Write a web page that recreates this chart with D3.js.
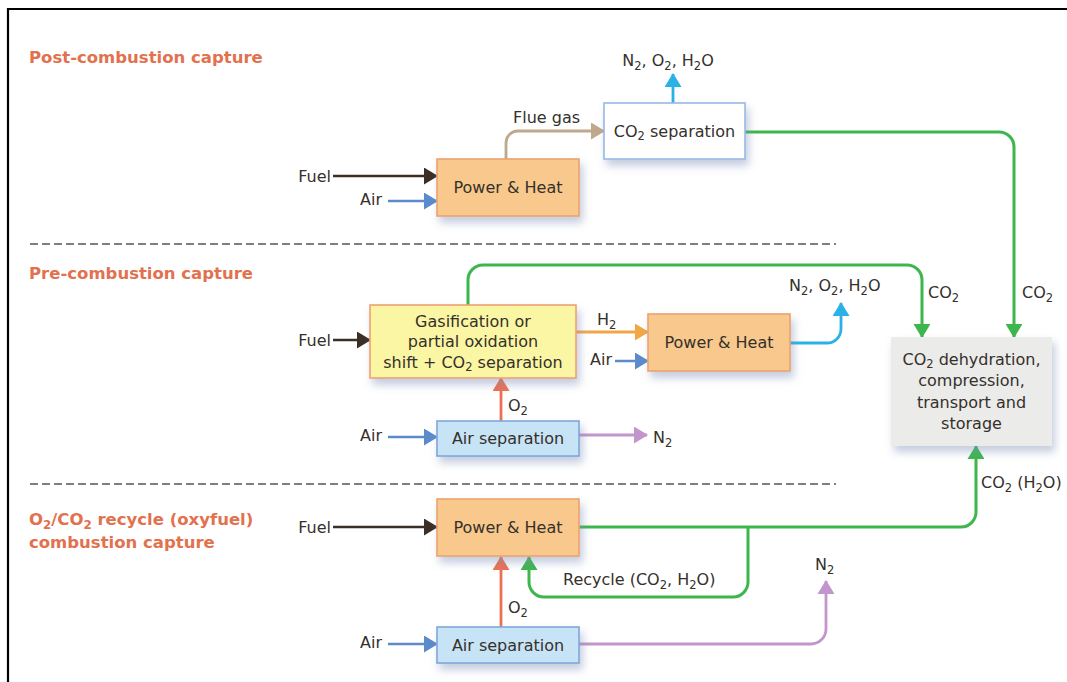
<!DOCTYPE html>
<html>
<head>
  <meta charset="utf-8">
  <title>CO2 capture routes</title>
  <script src="https://d3js.org/d3.v7.min.js"></script>
  <style>
    body { margin: 0; background: #fff; }
    svg text { font-family: "DejaVu Sans", sans-serif; font-size: 16px; fill: #35302b; }
    svg text.title { font-weight: bold; font-size: 16.5px; fill: #e2714e; }
  </style>
</head>
<body>
<svg id="chart"></svg>
<script>
// ---- texts (a "_2" means subscript 2) ----
var sectionTitles = [
  ["Post-combustion capture"],
  ["Pre-combustion capture"],
  ["O_2/CO_2 recycle (oxyfuel)", "combustion capture"]
];
var boxLabels = [
  ["Power & Heat"],
  ["CO_2 separation"],
  ["Gasification or", "partial oxidation", "shift + CO_2 separation"],
  ["Power & Heat"],
  ["Air separation"],
  ["CO_2 dehydration,", "compression,", "transport and", "storage"],
  ["Power & Heat"],
  ["Air separation"]
];
var boxKinds = ["heat", "sep", "gas", "heat", "air", "store", "heat", "air"];
var inputLabels = ["Fuel", "Air", "Fuel", "Air", "Air", "Fuel", "Air"];
var flowLabels = ["Flue gas", "N_2, O_2, H_2O", "CO_2", "CO_2", "H_2", "N_2, O_2, H_2O",
                  "O_2", "N_2", "CO_2 (H_2O)", "Recycle (CO_2, H_2O)", "O_2", "N_2"];

// ---- layout of the drawing ----
var W = 1067, H = 682;
var titlePos = [[29, 63], [29, 279], [29, 525]];
var dashY = [244, 484];
var boxRect = [
  [437, 159, 142, 57], [604, 103, 141, 56],
  [370, 305, 206, 73], [648, 314, 142, 57], [437, 421, 142, 35],
  [891, 337, 161, 109],
  [437, 499, 142, 57], [437, 627, 142, 36]
];
var boxLineHeight = [20, 20, 20.5, 20, 20, 21.5, 20, 20];
var boxStyle = {
  heat:  { fill: "#f8c88c", stroke: "#eca36e" },
  sep:   { fill: "#ffffff", stroke: "#98b9e4" },
  gas:   { fill: "#faf6a3", stroke: "#efa174" },
  air:   { fill: "#c7e4f6", stroke: "#7fa7d9" },
  store: { fill: "#ebebe9", stroke: "none" }
};
var colors = {
  fuel: "#3b2e25", air: "#5b8bcb", flue: "#bfa88b", out: "#2ab2e6",
  co2: "#3db64b", h2: "#f2a646", o2: "#ec7052", n2: "#c295cc"
};
// input arrows: [kind, label anchor end x, line y, start x, end x]
var inputs = [
  ["fuel", 331, 176, 333, 437], ["air", 382, 201, 388, 437],
  ["fuel", 331, 340, 333, 370], ["air", 612, 361, 615, 648], ["air", 382, 437, 388, 437],
  ["fuel", 331, 527, 333, 437], ["air", 382, 644, 388, 437]
];
// flows: [kind, corner radius, points]
var flows = [
  ["flue", 12, [[506, 159], [506, 131], [604, 131]]],
  ["out", 0, [[673, 103], [673, 74]]],
  ["co2", 15, [[745, 132], [1014, 132], [1014, 337]]],
  ["co2", 15, [[468, 305], [468, 265], [922, 265], [922, 337]]],
  ["h2", 0, [[576, 332], [648, 332]]],
  ["out", 14, [[790, 343], [841, 343], [841, 303]]],
  ["o2", 0, [[501, 421], [501, 378]]],
  ["n2", 0, [[579, 435], [647, 435]]],
  ["co2", 15, [[579, 527], [976, 527], [976, 446]]],
  ["co2", 15, [[748, 527], [748, 597], [529, 597], [529, 557]]],
  ["o2", 0, [[501, 627], [501, 557]]],
  ["n2", 15, [[579, 644], [826, 644], [826, 581]]]
];
// flow label positions: [x, baseline y, anchor]
var flowLabelPos = [
  [513, 123, "start"], [668, 66, "middle"], [1022, 298, "start"], [928, 298, "start"],
  [597, 325, "start"], [789, 291, "start"], [508, 411, "start"], [653, 443, "start"],
  [981, 488, "start"], [563, 585, "start"], [508, 613, "start"], [815, 570, "start"]
];

// ---- helpers ----
function richText(sel, str, size) {
  var parts = str.split(/_(\d)/), down = false;
  parts.forEach(function (s, i) {
    if (!s) return;
    if (i % 2) {
      sel.append("tspan").attr("font-size", size * 0.72).attr("dy", size * 0.22).text(s);
      down = true;
    } else {
      var t = sel.append("tspan").text(s);
      if (down) { t.attr("dy", -size * 0.22); down = false; }
    }
  });
}

function route(pts, r) {
  var p = d3.path();
  p.moveTo(pts[0][0], pts[0][1]);
  for (var i = 1; i < pts.length - 1; i++) {
    p.arcTo(pts[i][0], pts[i][1], pts[i + 1][0], pts[i + 1][1], r);
  }
  p.lineTo(pts[pts.length - 1][0], pts[pts.length - 1][1]);
  return p.toString();
}

// ---- drawing ----
var svg = d3.select("#chart").attr("width", W).attr("height", H);
var defs = svg.append("defs");

var shadow = defs.append("filter").attr("id", "shadow")
  .attr("x", "-20%").attr("y", "-20%").attr("width", "140%").attr("height", "160%");
shadow.append("feDropShadow").attr("dx", 3).attr("dy", 6).attr("stdDeviation", 4)
  .attr("flood-color", "#7c8db8").attr("flood-opacity", 0.45);

Object.keys(colors).forEach(function (k) {
  defs.append("marker")
    .attr("id", "arr-" + k)
    .attr("markerUnits", "userSpaceOnUse")
    .attr("markerWidth", 14).attr("markerHeight", 17)
    .attr("viewBox", "0 0 14 17")
    .attr("refX", 13).attr("refY", 8.5)
    .attr("orient", "auto")
    .append("path")
    .attr("d", "M0,0 L14,8.5 L0,17 Z")
    .attr("fill", colors[k]);
});

// frame (top and left rule)
svg.append("line").attr("x1", 7).attr("x2", W).attr("y1", 9).attr("y2", 9)
  .attr("stroke", "#000").attr("stroke-width", 2.2);
svg.append("line").attr("x1", 8).attr("x2", 8).attr("y1", 8).attr("y2", H)
  .attr("stroke", "#000").attr("stroke-width", 2.2);

// section separators
svg.selectAll(".sep-line").data(dashY).enter().append("line")
  .attr("class", "sep-line")
  .attr("x1", 30).attr("x2", 836)
  .attr("y1", function (d) { return d; }).attr("y2", function (d) { return d; })
  .attr("stroke", "#5a5550").attr("stroke-width", 1.4)
  .attr("stroke-dasharray", "8,4");

// section titles
sectionTitles.forEach(function (lines, i) {
  lines.forEach(function (line, j) {
    var t = svg.append("text").attr("class", "title")
      .attr("x", titlePos[i][0]).attr("y", titlePos[i][1] + j * 23);
    richText(t, line, 16.5);
  });
});

// flows
svg.selectAll(".flow").data(flows).enter().append("path")
  .attr("class", "flow")
  .attr("d", function (d) { return route(d[2], d[1]); })
  .attr("fill", "none")
  .attr("stroke", function (d) { return colors[d[0]]; })
  .attr("stroke-width", function (d) { return d[0] === "co2" ? 3 : 2.8; })
  .attr("marker-end", function (d) { return "url(#arr-" + d[0] + ")"; });

// inputs
svg.selectAll(".input").data(inputs).enter().append("line")
  .attr("class", "input")
  .attr("x1", function (d) { return d[3]; }).attr("x2", function (d) { return d[4]; })
  .attr("y1", function (d) { return d[2]; }).attr("y2", function (d) { return d[2]; })
  .attr("stroke", function (d) { return colors[d[0]]; })
  .attr("stroke-width", 2.6)
  .attr("marker-end", function (d) { return "url(#arr-" + d[0] + ")"; });

svg.selectAll(".input-label").data(inputs).enter().append("text")
  .attr("class", "input-label")
  .attr("x", function (d) { return d[1]; })
  .attr("y", function (d) { return d[2] + (d[0] === "fuel" ? 5.5 : 3.5); })
  .attr("text-anchor", "end")
  .text(function (d, i) { return inputLabels[i]; });

// boxes
var boxes = svg.selectAll(".box").data(boxRect).enter().append("g").attr("class", "box");
boxes.append("rect")
  .attr("x", function (d) { return d[0]; }).attr("y", function (d) { return d[1]; })
  .attr("width", function (d) { return d[2]; }).attr("height", function (d) { return d[3]; })
  .attr("fill", function (d, i) { return boxStyle[boxKinds[i]].fill; })
  .attr("stroke", function (d, i) { return boxStyle[boxKinds[i]].stroke; })
  .attr("stroke-width", 1.6)
  .attr("filter", "url(#shadow)");

boxes.each(function (d, i) {
  var lines = boxLabels[i], lh = boxLineHeight[i];
  var cx = d[0] + d[2] / 2, cy = d[1] + d[3] / 2;
  var y0 = cy - (lines.length - 1) * lh / 2 + 5.5;
  var g = d3.select(this);
  lines.forEach(function (line, j) {
    var t = g.append("text").attr("x", cx).attr("y", y0 + j * lh).attr("text-anchor", "middle");
    richText(t, line, 16);
  });
});

// flow labels
flowLabels.forEach(function (label, i) {
  var p = flowLabelPos[i];
  var t = svg.append("text").attr("x", p[0]).attr("y", p[1]).attr("text-anchor", p[2]);
  richText(t, label, 16);
});
</script>
</body>
</html>
